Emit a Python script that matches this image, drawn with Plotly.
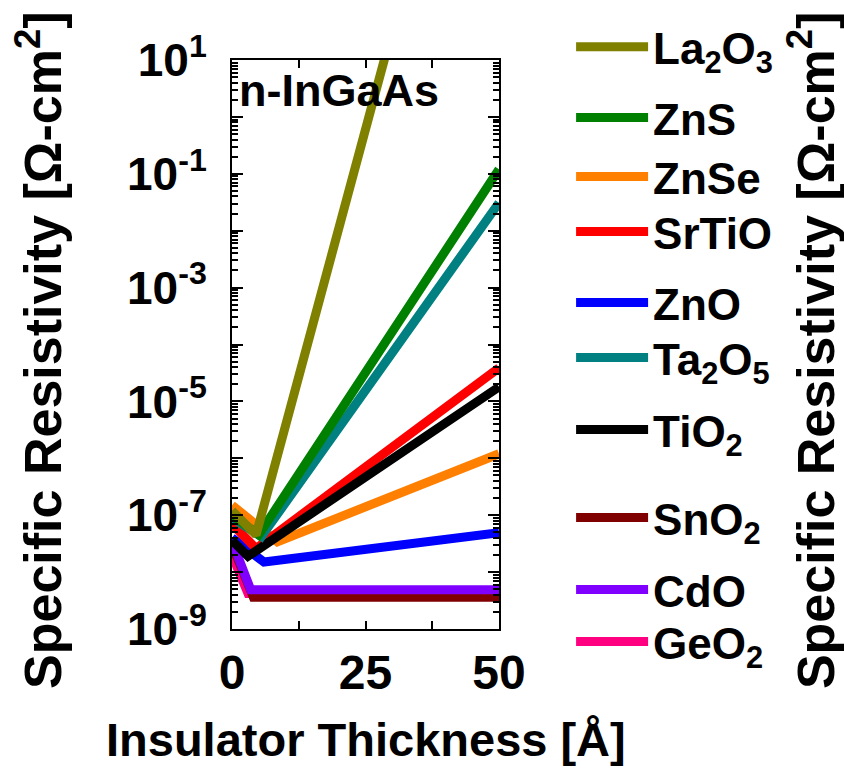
import plotly.graph_objects as go

# Specific contact resistivity vs. insulator thickness for MIS contacts on n-InGaAs
materials = ["La<sub>2</sub>O<sub>3</sub>", "ZnS", "ZnSe", "SrTiO", "ZnO",
             "Ta<sub>2</sub>O<sub>5</sub>", "TiO<sub>2</sub>", "SnO<sub>2</sub>",
             "CdO", "GeO<sub>2</sub>"]
colors = ["#808000", "#008000", "#ff8000", "#ff0000", "#0000ff",
          "#008080", "#000000", "#800000", "#8000ff", "#ff0080"]

# thickness [Å]
x_la2o3 = [0, 4.5, 30]
x_zns = [0, 5, 50]
x_znse = [0, 8.5, 50]
x_srtio = [0, 4.5, 50]
x_zno = [0, 6, 50]
x_ta2o5 = [0, 5.5, 50]
x_tio2 = [0, 3, 50]
x_sno2 = [0, 4, 50]
x_cdo = [0, 3.5, 50]
x_geo2 = [0, 3, 50]

# specific resistivity [Ω-cm²]
rho_la2o3 = [1.2e-7, 4.5e-8, 3.3e1]
rho_zns = [1.0e-7, 4.5e-8, 1.2e-1]
rho_znse = [1.5e-7, 3.4e-8, 1.2e-6]
rho_srtio = [7.0e-8, 2.6e-8, 3.9e-5]
rho_zno = [4.0e-8, 1.5e-8, 4.9e-8]
rho_ta2o5 = [9.0e-8, 4.2e-8, 3.1e-2]
rho_tio2 = [3.6e-8, 1.9e-8, 1.8e-5]
rho_sno2 = [3.0e-8, 3.6e-9, 3.6e-9]
rho_cdo = [3.5e-8, 4.9e-9, 4.9e-9]
rho_geo2 = [2.0e-8, 4.2e-9, 4.2e-9]

xs = [x_la2o3, x_zns, x_znse, x_srtio, x_zno, x_ta2o5, x_tio2, x_sno2, x_cdo, x_geo2]
ys = [rho_la2o3, rho_zns, rho_znse, rho_srtio, rho_zno, rho_ta2o5, rho_tio2,
      rho_sno2, rho_cdo, rho_geo2]

# stacking order of the curves (bottom first)
draw_order = [9, 7, 8, 4, 2, 3, 6, 5, 1, 0]

# vertical placement of each legend entry (paper units, one legend per entry)
legend_y = [1.0228, 0.8981, 0.7944, 0.6977, 0.5729, 0.4763, 0.3497, 0.1951, 0.0685, -0.0228]

y_tickvals = [10.0 ** e for e in range(-9, 2)]
y_ticktext = [f"10<sup>{e}</sup>" if e % 2 else "" for e in range(-9, 2)]
y_minorvals = [m * 10.0 ** e for e in range(-9, 1) for m in range(2, 10)]
x_tickvals = [0, 12.5, 25, 37.5, 50]
x_ticktext = ["0", "", "25", "", "50"]

FONT = "Liberation Sans, Arial, sans-serif"
LEG_FONT = dict(family=FONT, size=44, weight="bold")

fig = go.Figure()
for i in draw_order:
    fig.add_trace(go.Scatter(
        x=xs[i], y=ys[i], mode="lines", name=materials[i],
        line=dict(color=colors[i], width=9),
        legend="legend" if i == 0 else f"legend{i + 1}",
    ))

legends = {}
for i, ly in enumerate(legend_y):
    key = "legend" if i == 0 else f"legend{i + 1}"
    legends[key] = dict(
        x=1.27, y=ly, xanchor="left", yanchor="middle",
        bgcolor="rgba(0,0,0,0)", itemwidth=72, font=LEG_FONT,
    )

fig.update_layout(
    width=844, height=778,
    margin=dict(l=232, r=345, t=60, b=149),
    paper_bgcolor="white", plot_bgcolor="white",
    font=dict(family=FONT, color="black", size=44, weight="bold"),
    showlegend=True,
    xaxis=dict(
        range=[0, 50], tickvals=x_tickvals, ticktext=x_ticktext,
        ticks="inside", ticklen=8, tickwidth=2, tickcolor="black",
        showline=True, linewidth=2, linecolor="black", mirror="ticks",
        showgrid=False, zeroline=False,
        tickfont=dict(family=FONT, size=48, weight="bold"),
    ),
    yaxis=dict(
        type="log", range=[-9, 1], tickvals=y_tickvals, ticktext=y_ticktext,
        ticks="inside", ticklen=11, tickwidth=2, tickcolor="black",
        minor=dict(ticks="inside", ticklen=6, tickwidth=1.5, tickcolor="black",
                   tickmode="array", tickvals=y_minorvals),
        showline=True, linewidth=2, linecolor="black", mirror="ticks",
        showgrid=False, zeroline=False, ticklabelstandoff=14,
        tickfont=dict(family=FONT, size=46, weight="bold"),
    ),
    **legends,
)

fig.add_annotation(
    x=0.02, y=0.995, xref="paper", yref="paper", xanchor="left", yanchor="top",
    text="n-InGaAs", showarrow=False,
    font=dict(family=FONT, size=45, weight="bold"),
)
fig.add_annotation(
    x=0.5, y=-0.195, xref="paper", yref="paper", xanchor="center", yanchor="middle",
    text="Insulator Thickness [Å]", showarrow=False,
    font=dict(family=FONT, size=47, weight="bold"),
)
for xp in (-0.72, 2.172):
    fig.add_annotation(
        x=xp, y=0.49, xref="paper", yref="paper", xanchor="center", yanchor="middle",
        text="Specific Resistivity [Ω-cm<sup>2</sup>]", showarrow=False, textangle=-90,
        font=dict(family=FONT, size=52, weight="bold"),
    )

fig.write_html("out.html")
